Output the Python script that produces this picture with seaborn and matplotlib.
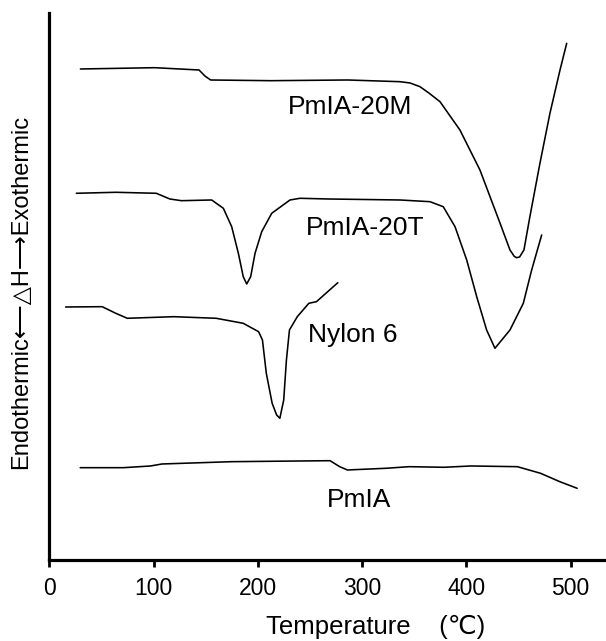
import numpy as np
import pandas as pd
import matplotlib
matplotlib.use("Agg")
import matplotlib.pyplot as plt
import seaborn as sns

# ---- data (temperature in degC, heat flow in arbitrary units) ----
t_20m = [29.8, 101.0, 143.6, 149.2, 154.7, 212.2, 286.3, 336.3, 346.0, 355.5, 364.0,
         374.7, 393.8, 413.0, 432.2, 441.8, 446.0, 448.2, 451.0, 455.2, 460.9, 470.6,
         480.2, 489.8, 496.2]
y_20m = [491.0, 492.3, 490.0, 484.0, 480.0, 479.3, 480.0, 478.3, 477.0, 473.3, 467.0,
         458.3, 430.0, 390.0, 337.0, 310.0, 303.5, 302.3, 303.0, 310.0, 343.3, 397.0,
         447.0, 490.0, 516.7]

t_20t = [25.9, 63.7, 102.6, 115.6, 126.7, 155.7, 166.9, 174.9, 181.3, 186.0, 189.3,
         193.1, 197.3, 203.7, 213.3, 230.8, 240.4, 267.3, 336.3, 365.1, 377.8, 389.1,
         400.3, 409.9, 419.4, 427.4, 441.8, 454.6, 462.6, 472.2]
y_20t = [366.7, 367.7, 366.7, 361.0, 359.3, 360.0, 351.7, 333.3, 306.7, 283.3, 276.0,
         283.3, 306.7, 328.3, 346.7, 360.0, 361.7, 361.0, 360.0, 358.3, 353.3, 333.3,
         300.0, 263.3, 230.0, 211.7, 230.0, 256.7, 290.0, 325.0]

t_ny6 = [15.6, 50.7, 63.7, 74.8, 119.2, 160.0, 185.9, 200.7, 204.4, 208.1, 213.7,
         218.0, 221.1, 224.8, 227.4, 230.3, 237.8, 248.9, 256.2, 276.7]
y_ny6 = [253.0, 253.3, 246.7, 241.7, 243.3, 241.7, 236.7, 228.3, 220.0, 186.7, 156.7,
         145.0, 141.7, 160.0, 200.0, 230.0, 243.3, 256.7, 258.3, 277.3]

t_pmia = [29.6, 71.1, 97.0, 108.1, 174.8, 269.2, 278.5, 285.9, 322.9, 345.1, 378.4,
          404.4, 448.9, 471.1, 489.6, 506.2]
y_pmia = [92.3, 92.3, 94.0, 96.0, 98.3, 99.3, 93.3, 90.0, 91.7, 93.3, 92.7,
          94.0, 93.3, 86.7, 78.3, 71.7]

labels = ["PmIA-20M", "PmIA-20T", "Nylon 6", "PmIA"]
label_pos_t = [288.4, 303.0, 290.8, 296.7]
label_pos_y = [453.3, 331.7, 225.0, 60.0]
x_ticks = [0, 100, 200, 300, 400, 500]

# ---- figure ----
sns.set_theme(style="ticks")
plt.rcParams["font.family"] = ["Liberation Sans", "DejaVu Sans"]

fig = plt.figure(figsize=(6.06, 6.41), dpi=100)
ax = fig.add_axes([0.0814, 0.1264, 0.9186, 0.8538])

curves = [(t_20m, y_20m), (t_20t, y_20t), (t_ny6, y_ny6), (t_pmia, y_pmia)]
for (t, y), name in zip(curves, labels):
    df = pd.DataFrame({"T": t, "H": y})
    sns.lineplot(data=df, x="T", y="H", ax=ax, color="black", lw=1.15,
                 sort=False, estimator=None)

for name, tx, ty in zip(labels, label_pos_t, label_pos_y):
    ax.text(tx, ty, name, ha="center", va="center", fontsize=19, color="black")

ax.set_xlim(0, 533.9)
ax.set_ylim(0, 547.3)
ax.set_xticks(x_ticks)
ax.set_yticks([])
ax.tick_params(axis="x", direction="out", length=5, width=2, labelsize=16.5,
               colors="black", pad=7)
for s in ["top", "right"]:
    ax.spines[s].set_visible(False)
for s in ["left", "bottom"]:
    ax.spines[s].set_linewidth(2.3)
    ax.spines[s].set_color("black")

ax.set_xlabel("Temperature    (\u2103)", fontsize=18.5, color="black")
ax.xaxis.label.set_va("center")
ax.xaxis.set_label_coords(0.587, -0.1219)

ax.set_ylabel("Endothermic\u27f5\u25b3H\u27f6Exothermic", fontsize=17, color="black")
ax.yaxis.label.set_va("center")
ax.yaxis.set_label_coords(-0.0508, 0.4906)

fig.savefig("out.png", dpi=100, facecolor="white")
